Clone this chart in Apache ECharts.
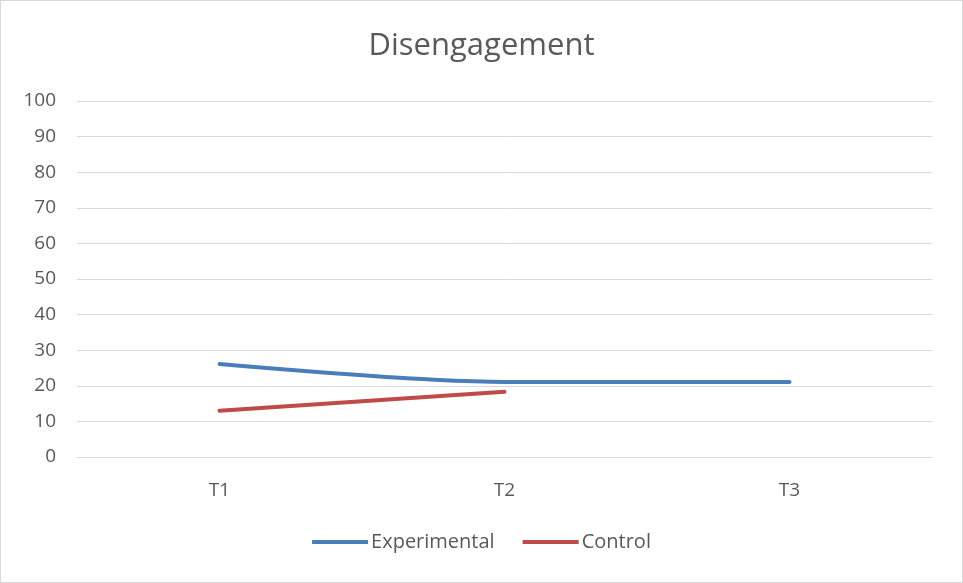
<!DOCTYPE html>
<html><head><meta charset="utf-8">
<script src="https://cdn.jsdelivr.net/npm/echarts@6/dist/echarts.min.js"></script>
<style>html,body{margin:0;padding:0;background:#fff;}#c{width:961px;height:581px;border:1px solid #d9d9d9;}</style>
</head><body><div id="c"></div>
<script>
var categories = ['T1', 'T2', 'T3'];
var experimental = [26.1, 21.1, 21.1];
var control = [13.0, 18.3, null];
var chart = echarts.init(document.getElementById('c'));
chart.setOption({
  animation: false,
  title: {text: 'Disengagement', left: 'center', top: 25, textStyle: {fontFamily: 'Open Sans', fontSize: 31, fontWeight: 'normal', color: '#595959'}},
  grid: {left: 76, right: 30, top: 100, bottom: 125},
  xAxis: {type: 'category', data: categories, boundaryGap: true,
    axisLine: {lineStyle: {color: '#d9d9d9'}}, axisTick: {show: false},
    axisLabel: {color: '#595959', fontSize: 19, fontFamily: 'Open Sans', margin: 24}},
  yAxis: {type: 'value', min: 0, max: 100, interval: 10,
    axisLine: {show: false}, axisTick: {show: false},
    splitLine: {lineStyle: {color: '#d9d9d9'}},
    axisLabel: {color: '#595959', fontSize: 19, fontFamily: 'Open Sans', margin: 21}},
  legend: {bottom: 25, left: 'center', itemWidth: 56, itemGap: 28, icon: 'rect', itemHeight: 4,
    textStyle: {color: '#595959', fontSize: 20, fontFamily: 'Open Sans', padding: [0,0,0,-2]}},
  series: [
    {name: 'Experimental', type: 'line', data: experimental, smooth: 0.3, symbol: 'none', lineStyle: {width: 4, color: '#4a7ebb', cap: 'round'}, itemStyle: {color: '#4a7ebb'}},
    {name: 'Control', type: 'line', data: control, smooth: 0.3, symbol: 'none', lineStyle: {width: 4, color: '#be4b48', cap: 'round'}, itemStyle: {color: '#be4b48'}}
  ]
});
</script></body></html>
